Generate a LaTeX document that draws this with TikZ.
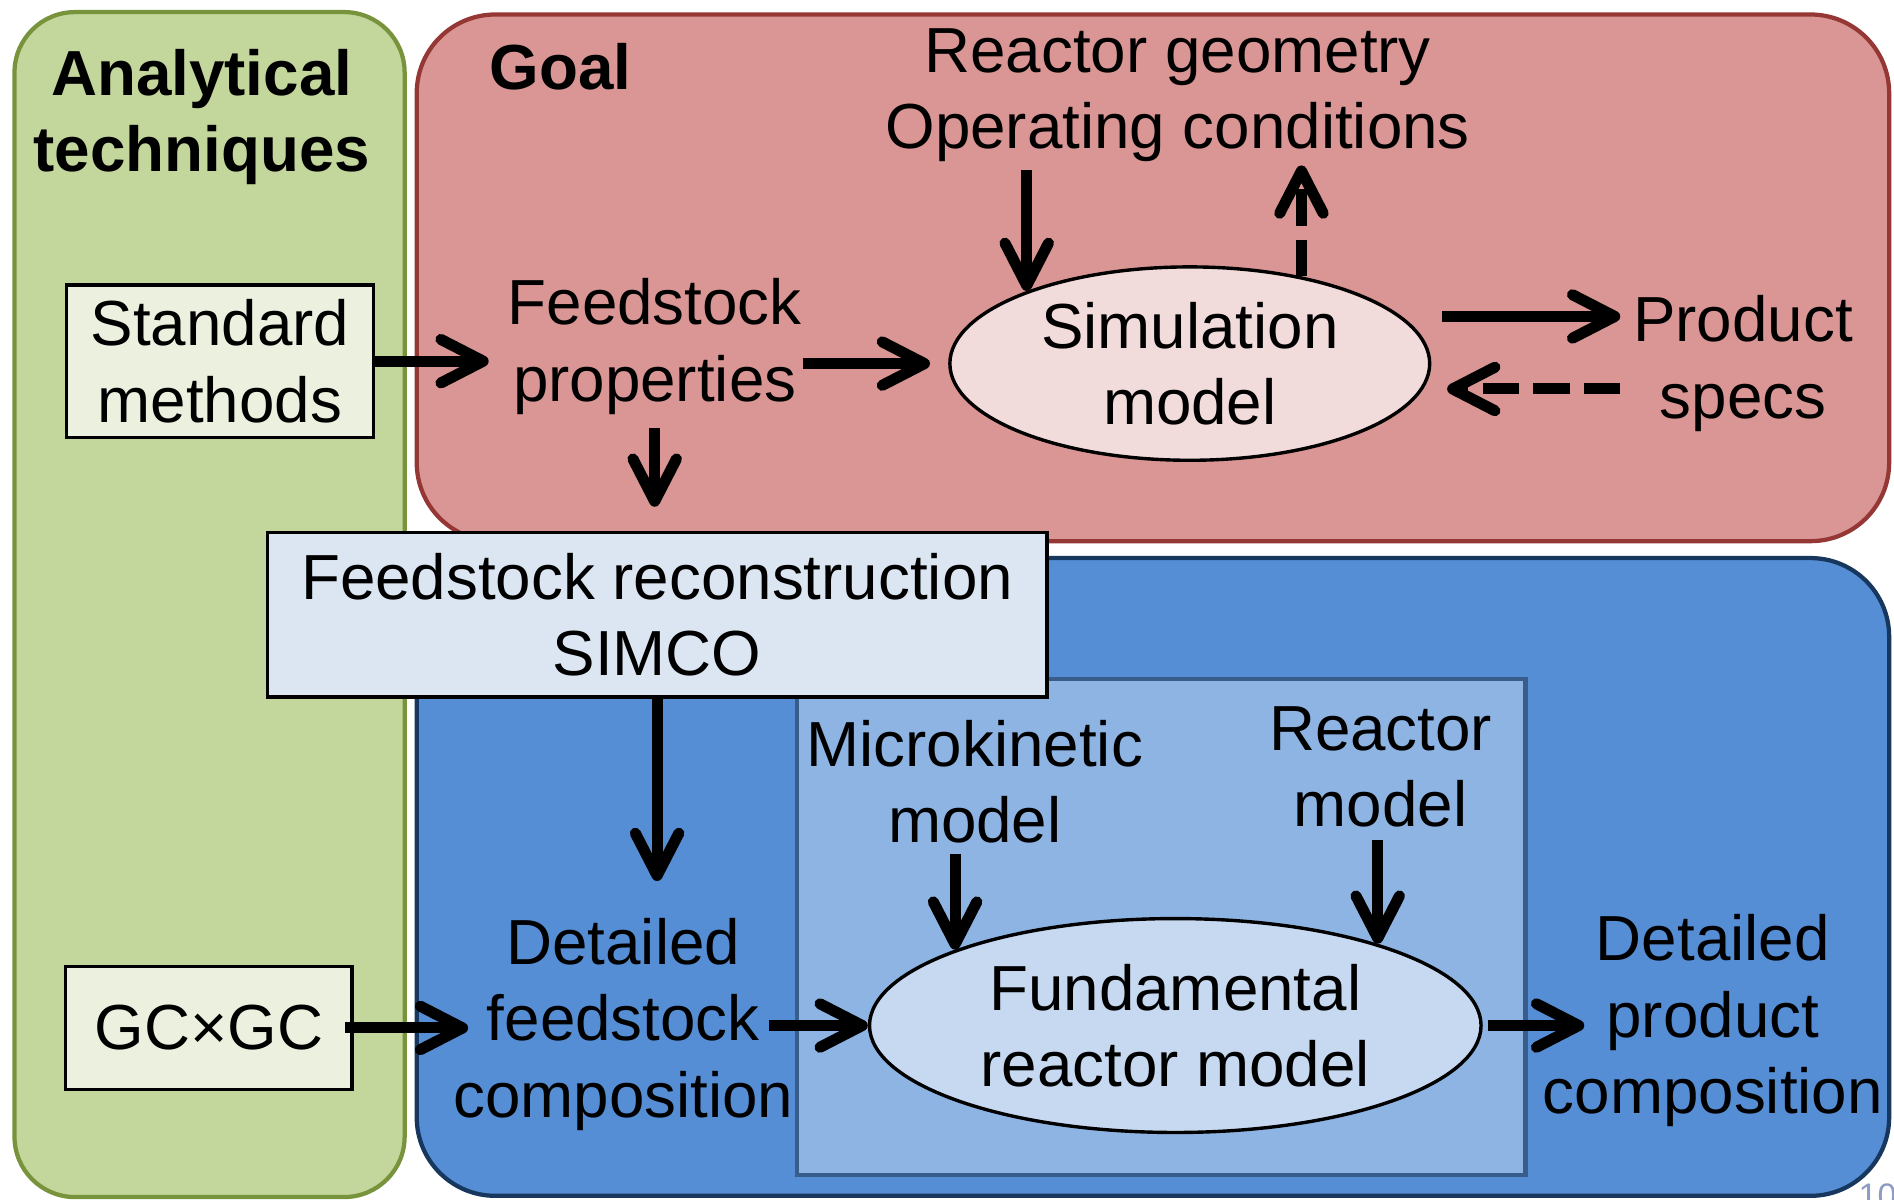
\documentclass[tikz,border=0pt]{standalone}
\usepackage{fontspec}
\setmainfont{Liberation Sans}
\usetikzlibrary{arrows.meta, shapes.geometric}
\definecolor{anafill}{HTML}{C3D69B}
\definecolor{anaedge}{HTML}{77933C}
\definecolor{goalfill}{HTML}{D99694}
\definecolor{goaledge}{HTML}{953735}
\definecolor{simfill}{HTML}{558ED5}
\definecolor{simedge}{HTML}{17375E}
\definecolor{innerfill}{HTML}{8EB4E3}
\definecolor{inneredge}{HTML}{385D8A}
\definecolor{srcfill}{HTML}{EBF1DE}
\definecolor{simcofill}{HTML}{DCE6F2}
\definecolor{simmfill}{HTML}{F2DCDB}
\definecolor{fundfill}{HTML}{C6D9F1}
\definecolor{pagenum}{HTML}{8E9CC2}

\begin{document}
\begin{tikzpicture}[
    x=0.01cm, y=-0.01cm,
    panel/.style={line width=1pt, rounded corners=0.65cm},
    lbl/.style={align=center, inner sep=0pt, font=\fontsize{15}{18}\selectfont},
    hdr/.style={lbl, font=\fontsize{15}{18}\selectfont\bfseries},
    srcbox/.style={lbl, draw, line width=0.8pt, fill=srcfill},
    model/.style={lbl, ellipse, draw, line width=0.8pt},
    arr/.style={line width=2.6pt, -{Straight Barb[length=3.5mm, width=3.6mm, round]}},
    darr/.style={arr, dash pattern=on 3mm off 1.2mm}
]
\useasboundingbox (0,0) rectangle (1568,993);

	\draw[panel, draw=anaedge, fill=anafill, rounded corners=0.5cm] (12,10) rectangle (335,991);
	\draw[panel, draw=goaledge, fill=goalfill] (345,12) rectangle (1564,448);
	\draw[panel, draw=simedge, fill=simfill] (345,462) rectangle (1564,990);
	\draw[line width=1pt, draw=inneredge, fill=innerfill] (660,562) rectangle (1263,973);

	\node[hdr] (anatitle) at (167,97) {Analytical\\techniques};
	\node[hdr] (goal) at (464,55) {Goal};
	\node[lbl] (geo) at (975,79) {Reactor geometry\\Operating conditions};
	\node[srcbox, minimum width=2.54cm, minimum height=1.26cm] (std) at (182,299) {Standard\\methods};
	\node[lbl] (props) at (542,287) {Feedstock\\properties};
	\node[model, fill=simmfill, minimum width=3.97cm, minimum height=1.6cm] (sim) at (985,301) {Simulation\\model};
	\node[lbl] (prod) at (1443,301) {Product\\specs};
	\node[lbl, draw, line width=0.8pt, fill=simcofill, minimum width=6.45cm, minimum height=1.36cm] (simco) at (544,509) {Feedstock reconstruction\\SIMCO};
	\node[srcbox, minimum width=2.37cm, minimum height=1.02cm] (gc) at (173,851) {GC×GC};
	\node[lbl] (fdet) at (516,848) {Detailed\\feedstock\\composition};
	\node[lbl] (micro) at (807,647) {Microkinetic\\model};
	\node[lbl] (rmod) at (1143,635) {Reactor\\model};
	\node[model, fill=fundfill, minimum width=5.06cm, minimum height=1.77cm] (fund) at (973,849) {Fundamental\\reactor model};
	\node[lbl] (pdet) at (1418,845) {Detailed\\product\\composition};
	\node[lbl, font=\fontsize{8}{9}\selectfont, text=pagenum, anchor=north west] (pg) at (1538,979) {10};

	\draw[arr] (std.east) -- ([xshift=-0.15cm]props.west |- std.east);
	\draw[arr] (props.east |- sim.west) -- ([xshift=-0.15cm]sim.west);
	\draw[arr] ([yshift=-0.1cm]props.south) -- ([yshift=0.2cm]props.south |- simco.north);
	\draw[arr] ([yshift=-0.06cm]geo.south -| sim.156) -- (sim.156);
	\draw[darr] (sim.38) -- ([yshift=-0.02cm]sim.38 |- geo.south);
	\draw[arr] ([shift={(0.09cm,0.39cm)}]sim.east) -- ([shift={(-0.1cm,0.39cm)}]prod.west);
	\draw[darr] ([shift={(-0.1cm,-0.21cm)}]prod.west) -- ([shift={(0.13cm,-0.21cm)}]sim.east);
	\draw[arr] (simco.south) -- ([yshift=0.3cm]simco.south |- fdet.north);
	\draw[arr] ([xshift=-0.07cm]gc.east) -- ([xshift=0.13cm]fdet.west |- gc.east);
	\draw[arr] ([xshift=-0.21cm]fdet.east |- fund.west) -- (fund.west);
	\draw[arr] ([yshift=-0.08cm]micro.south -| fund.161) -- (fund.161);
	\draw[arr] ([yshift=-0.1cm]rmod.south -| fund.22) -- (fund.22);
	\draw[arr] ([xshift=0.04cm]fund.east) -- ([xshift=0.35cm]pdet.west |- fund.east);
\end{tikzpicture}
\end{document}
